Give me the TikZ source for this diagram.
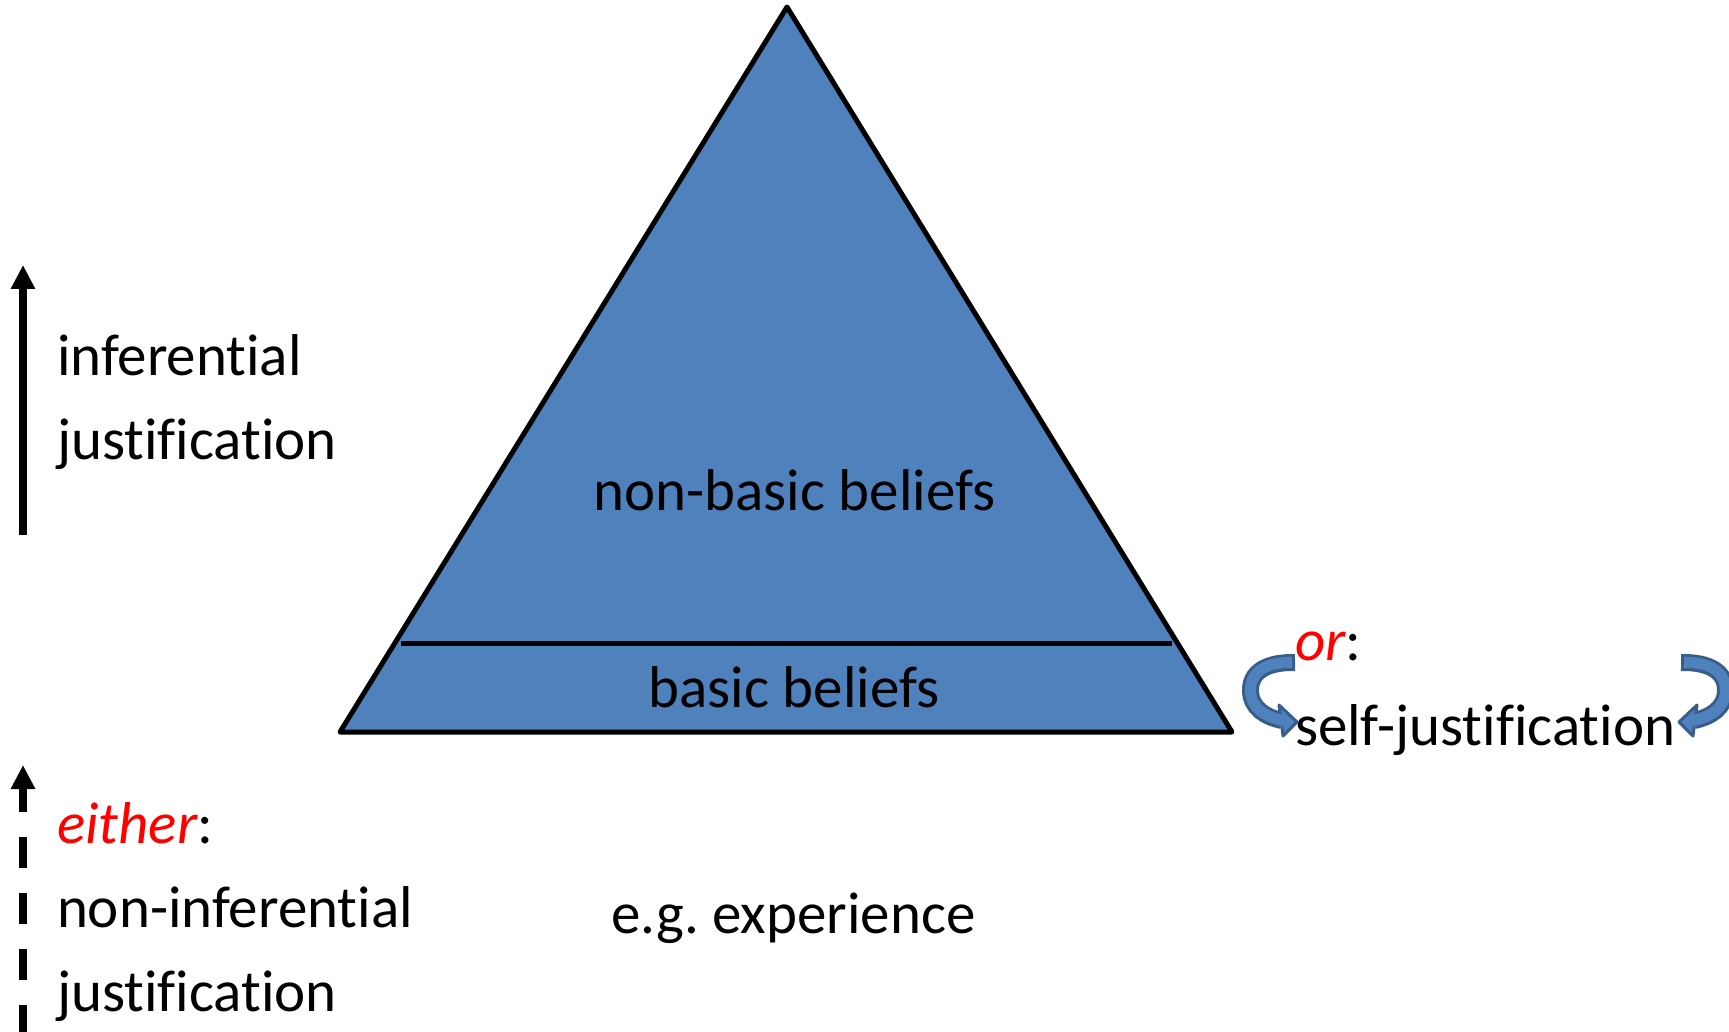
\documentclass[tikz,border=0pt]{standalone}
\usepackage{fontspec}
\setmainfont{Carlito}[Ligatures={NoCommon}]
\usetikzlibrary{arrows.meta}
\definecolor{tri}{HTML}{4F81BD}
\definecolor{cfill}{HTML}{4F81BD}
\definecolor{cborder}{HTML}{385D8A}
\definecolor{hlred}{HTML}{FF0000}
\frenchspacing
\begin{document}
\begin{tikzpicture}[x=1pt,y=-1pt,
  lbl/.style={inner sep=0pt, outer sep=0pt, font=\fontsize{59}{71}\selectfont},
  upar/.style={line width=8.5pt, -{Triangle[length=24pt,width=23pt]}}]
\useasboundingbox (0,0) rectangle (1729,1032);
% pyramid
\coordinate (apex) at (787,7);
\coordinate (bl) at (340,732);
\coordinate (br) at (1232,732);
\filldraw[fill=tri, draw=black, line width=5pt, line join=round] (apex) -- (br) -- (bl) -- cycle;
\coordinate (sl) at (401,643);
\coordinate (sr) at (1172,643);
\draw[line width=5pt] (sl) -- (sr);
% labels
\node[lbl, anchor=base] (nonbasic) at (794.5,510) {non-basic beliefs};
\node[lbl, anchor=base] (basic) at (794,707) {basic beliefs};
\node[lbl, anchor=base] (eg) at (793.5,933) {e.g. experience};
\node[lbl, anchor=base west] (inf) at (57,375) {inferential};
\node[lbl, anchor=base west] (just1) at (57,459) {justification};
\node[lbl, anchor=base west] (either) at (57,843) {\textcolor{hlred}{\itshape either}:};
\node[lbl, anchor=base west] (noninf) at (57,927) {non-inferential};
\node[lbl, anchor=base west] (just2) at (57,1011) {justification};
\node[lbl, anchor=base west] (or) at (1295,660) {\textcolor{hlred}{\itshape or}:};
\node[lbl, anchor=base west] (self) at (1295,745) {self-justification};
% vertical arrows
\coordinate (a1s) at (23,535);
\coordinate (a1e) at (23,265);
\draw[upar] (a1s) -- (a1e);
\coordinate (a2s) at (23,1036);
\coordinate (a2e) at (23,765);
\draw[upar, dash pattern=on 31pt off 25pt] (a2s) -- (a2e);
% curved self-arrows
\foreach \s/\sh in {1/0,-1/2976}{
\begin{scope}[shift={(\sh,0)}, xscale=\s]
  \draw[cborder, line width=17pt] (1295,662.5) .. controls (1266,662) and (1250,672) .. (1250.5,691) .. controls (1251,708) and (1265,717) .. (1282,720.5);
  \filldraw[fill=cfill, draw=cborder, line width=3pt, line join=round] (1279,705) -- (1297,722) -- (1283,736) -- cycle;
  \draw[cfill, line width=11pt, shorten <=3pt, shorten >=-3pt] (1295,662.5) .. controls (1266,662) and (1250,672) .. (1250.5,691) .. controls (1251,708) and (1265,717) .. (1282,720.5);
\end{scope}
}
\end{tikzpicture}
\end{document}
